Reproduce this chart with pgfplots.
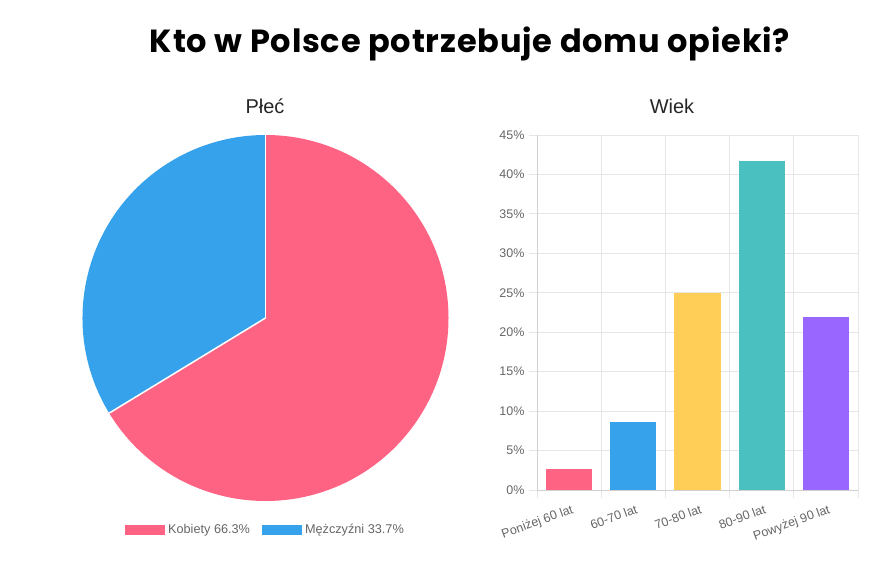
\documentclass[border=0pt]{standalone}
\usepackage{pgfplots}
\pgfplotsset{compat=1.18}
\usepackage{fontspec}
\setmainfont{Liberation Sans}
\newfontfamily\titlefont[LetterSpace=2.5]{Poppins}
\definecolor{cpink}{HTML}{FF6384}
\definecolor{cblue}{HTML}{36A2EB}
\definecolor{cyellow}{HTML}{FFCE56}
\definecolor{cteal}{HTML}{4BC0C0}
\definecolor{cpurple}{HTML}{9966FF}
\definecolor{txtgray}{HTML}{666666}
\definecolor{gridgray}{HTML}{E6E6E6}
\definecolor{axisgray}{HTML}{D0D0D0}

% pie values (percent)
\def\kobiety{66.3}
\def\mezczyzni{33.7}

\begin{document}
\begin{tikzpicture}[x=1pt,y=1pt]
\path[use as bounding box] (0,0) rectangle (893,562);

\node[font=\titlefont\bfseries\fontsize{32}{38}\selectfont] at (470,518) {Kto w Polsce potrzebuje domu opieki?};
\node[font=\fontsize{20}{24}\selectfont, text=black!85] at (265,456) {Płeć};
\node[font=\fontsize{20}{24}\selectfont, text=black!85] at (672,456) {Wiek};

% ---- pie ----
\begin{axis}[
    hide axis, scale only axis,
    width=366pt, height=366pt,
    xmin=-1, xmax=1, ymin=-1, ymax=1,
    at={(265.5pt,244pt)}, anchor=center,
    clip=false,
    legend columns=2,
    legend style={at={(0.5,-0.079)}, anchor=center, draw=none,
        font=\fontsize{12.7}{15}\selectfont, text=txtgray,
        /tikz/every odd column/.append style={column sep=1pt},
        /tikz/every even column/.append style={column sep=10pt}},
    legend image code/.code={\path[#1] (0pt,-5pt) rectangle (40pt,5pt);},
]
\pgfmathsetmacro\angK{90-\kobiety*3.6}
\pgfmathsetmacro\angM{\angK-\mezczyzni*3.6}
\fill[cpink] (axis cs:0,0) -- (axis cs:0,1) arc[start angle=90, end angle=\angK, radius=183pt] -- cycle;
\fill[cblue] (axis cs:0,0) -- ++(\angK:183pt) arc[start angle=\angK, end angle=\angM, radius=183pt] -- cycle;
\draw[white, line width=1.5pt] (axis cs:0,0) -- ++(90:183pt);
\draw[white, line width=1.5pt] (axis cs:0,0) -- ++(\angK:183pt);
\addlegendimage{fill=cpink, draw=none}
\addlegendentry{Kobiety 66.3\%}
\addlegendimage{fill=cblue, draw=none}
\addlegendentry{Mężczyźni 33.7\%}
\end{axis}

% ---- bars ----
\begin{axis}[
    scale only axis,
    width=321pt, height=355pt,
    at={(537pt,72pt)}, anchor=south west,
    xmin=-0.5, xmax=4.5, ymin=0, ymax=45,
    xtick={0,...,4},
    xticklabels={Poniżej 60 lat, 60-70 lat, 70-80 lat, 80-90 lat, Powyżej 90 lat},
    minor xtick={-0.5,0.5,...,4.5},
    ytick={0,5,...,45},
    yticklabel={\pgfmathprintnumber{\tick}\%},
    /pgf/number format/assume math mode=true,
    ymajorgrids, xminorgrids,
    grid style={gridgray, line width=0.8pt},
    minor grid style={gridgray, line width=0.8pt},
    axis x line*=bottom, axis y line*=left,
    axis line style={axisgray, line width=0.8pt, -},
    tick align=outside,
    major tick length=8pt, minor tick length=8pt,
    tick style={gridgray, line width=0.8pt},
    major x tick style={draw=none},
    ticklabel style={font=\fontsize{12.5}{14}\selectfont, text=txtgray},
    xticklabel style={rotate=20, anchor=north east, yshift=-3pt, xshift=3pt},
    yticklabel style={xshift=-1pt},
]
\addplot[ybar, bar width=0.72, fill=cpink, draw=none] coordinates {(0,2.6)};
\addplot[ybar, bar width=0.72, fill=cblue, draw=none] coordinates {(1,8.6)};
\addplot[ybar, bar width=0.72, fill=cyellow, draw=none] coordinates {(2,25.0)};
\addplot[ybar, bar width=0.72, fill=cteal, draw=none] coordinates {(3,41.7)};
\addplot[ybar, bar width=0.72, fill=cpurple, draw=none] coordinates {(4,21.9)};
\end{axis}
\end{tikzpicture}
\end{document}
